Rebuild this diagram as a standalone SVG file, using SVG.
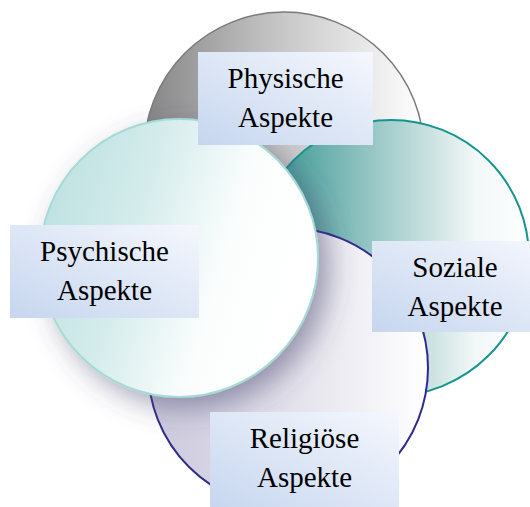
<svg xmlns="http://www.w3.org/2000/svg" width="530" height="507" viewBox="0 0 530 507">
<style>
.lbl{font-family:'Liberation Serif','Times New Roman',serif;font-size:29px;fill:#000;text-anchor:middle}
.box{fill:url(#gBox)}
</style>
<defs>
<linearGradient id="gGray" x1="0" y1="0" x2="1" y2="0">
<stop offset="0" stop-color="#858585"/><stop offset="0.45" stop-color="#c2c2c2"/><stop offset="1" stop-color="#ffffff"/>
</linearGradient>
<linearGradient id="gTeal" x1="0" y1="0" x2="1" y2="0">
<stop offset="0" stop-color="#2a918c"/><stop offset="0.4" stop-color="#8fc2c0"/><stop offset="0.8" stop-color="#f2f7f7"/><stop offset="1" stop-color="#ffffff"/>
</linearGradient>
<linearGradient id="gBlue" x1="0" y1="0" x2="1" y2="0">
<stop offset="0" stop-color="#cbc8dc"/><stop offset="0.5" stop-color="#e2e0ea"/><stop offset="1" stop-color="#ffffff"/>
</linearGradient>
<linearGradient id="gPsy" x1="0" y1="0" x2="1" y2="0.3">
<stop offset="0" stop-color="#b9dede"/><stop offset="0.4" stop-color="#d3ebeb"/><stop offset="0.75" stop-color="#fbfdfd"/><stop offset="1" stop-color="#ffffff"/>
</linearGradient>
<linearGradient id="gBox" x1="0" y1="1" x2="1" y2="0">
<stop offset="0" stop-color="#c6d6ef"/><stop offset="1" stop-color="#f5f7fd"/>
</linearGradient>
<filter id="shadow" x="-30%" y="-30%" width="170%" height="170%">
<feGaussianBlur in="SourceAlpha" stdDeviation="14"/>
<feOffset dx="10" dy="10" result="b"/>
<feFlood flood-color="#4a4670" flood-opacity="0.5"/>
<feComposite in2="b" operator="in" result="s"/>
<feMerge><feMergeNode in="s"/><feMergeNode in="SourceGraphic"/></feMerge>
</filter>
</defs>
<g id="circles">
<circle id="c-physische" cx="284" cy="152" r="140" fill="url(#gGray)" stroke="#7a7a7a" stroke-width="1.5"/>
<circle id="c-soziale" cx="391" cy="258" r="138" fill="url(#gTeal)" stroke="#16958f" stroke-width="2"/>
<circle id="c-religioese" cx="288" cy="368" r="140" fill="url(#gBlue)" stroke="#2d2b8c" stroke-width="2"/>
<circle id="c-psychische" cx="179" cy="258" r="139" fill="url(#gPsy)" stroke="#a6dad6" stroke-width="2" filter="url(#shadow)"/>
</g>
<g id="node-physische">
<rect class="box" x="198" y="52" width="175" height="93"/>
<text class="lbl" x="285.5" y="88">Physische</text>
<text class="lbl" x="285.5" y="127">Aspekte</text>
</g>
<g id="node-psychische">
<rect class="box" x="10" y="225" width="189" height="93"/>
<text class="lbl" x="104.5" y="261">Psychische</text>
<text class="lbl" x="104.5" y="300">Aspekte</text>
</g>
<g id="node-soziale">
<rect class="box" x="372" y="241" width="175" height="91"/>
<text class="lbl" x="455" y="277">Soziale</text>
<text class="lbl" x="455" y="316">Aspekte</text>
</g>
<g id="node-religioese">
<rect class="box" x="210" y="412" width="189" height="100"/>
<text class="lbl" x="304.5" y="448">Religiöse</text>
<text class="lbl" x="304.5" y="487">Aspekte</text>
</g>
</svg>
